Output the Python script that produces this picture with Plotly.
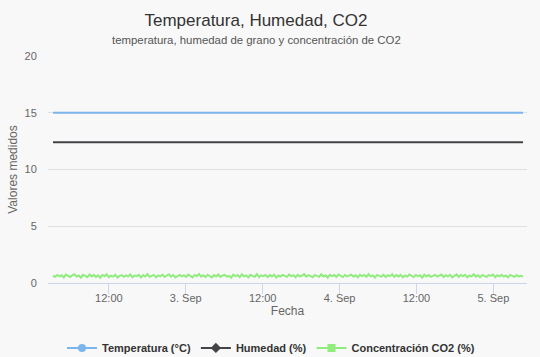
import pandas as pd
import plotly.graph_objects as go

# ---- data ----
inicio = "2019-09-02 03:17"
fin = "2019-09-05 04:38"

co2 = [
    0.64, 0.55, 0.71, 0.58, 0.68, 0.49, 0.74, 0.62, 0.53, 0.69, 0.77, 0.57, 0.66, 0.47, 0.72, 0.63, 0.51, 0.75, 0.58, 0.70,
    0.54, 0.67, 0.46, 0.71, 0.60, 0.78, 0.52, 0.65, 0.56, 0.73, 0.48, 0.63, 0.70, 0.55, 0.68, 0.59, 0.76, 0.50, 0.66, 0.61,
    0.72, 0.48, 0.69, 0.57, 0.79, 0.54, 0.62, 0.71, 0.50, 0.67, 0.58, 0.74, 0.53, 0.65, 0.77, 0.56, 0.70, 0.49, 0.61, 0.72,
    0.58, 0.67, 0.54, 0.75, 0.62, 0.50, 0.71, 0.60, 0.80, 0.56, 0.68, 0.52, 0.73, 0.63, 0.48, 0.70, 0.58, 0.75, 0.54, 0.66,
    0.71, 0.56, 0.63, 0.47, 0.74, 0.60, 0.69, 0.52, 0.77, 0.58, 0.66, 0.50, 0.72, 0.62, 0.55, 0.78, 0.53, 0.68, 0.60, 0.71,
    0.52, 0.70, 0.58, 0.74, 0.48, 0.66, 0.56, 0.71, 0.63, 0.54, 0.76, 0.60, 0.68, 0.50, 0.72, 0.58, 0.65, 0.79, 0.56, 0.70,
    0.61, 0.50, 0.71, 0.63, 0.54, 0.77, 0.58, 0.68, 0.47, 0.72, 0.60, 0.70, 0.54, 0.75, 0.62, 0.52, 0.71, 0.58, 0.66, 0.74,
    0.56, 0.68, 0.50, 0.72, 0.60, 0.70, 0.54, 0.78, 0.58, 0.66, 0.48, 0.71, 0.63, 0.56, 0.74, 0.52, 0.68, 0.60, 0.77, 0.54,
    0.70, 0.58, 0.72, 0.50, 0.66, 0.56, 0.75, 0.63, 0.52, 0.71, 0.60, 0.68, 0.47, 0.74, 0.58, 0.70, 0.54, 0.63, 0.72, 0.56,
    0.66, 0.74, 0.52, 0.68, 0.58, 0.71, 0.49, 0.63, 0.76, 0.54, 0.70, 0.60, 0.72, 0.50, 0.66, 0.58, 0.77, 0.56, 0.68, 0.52,
    0.71, 0.60, 0.54, 0.70, 0.63, 0.75, 0.50, 0.68, 0.58, 0.72, 0.56, 0.66, 0.49, 0.71, 0.60, 0.54, 0.68, 0.58, 0.63, 0.56,
]
N = len(co2)
temperatura = [15.0] * N
humedad = [12.4] * N
fechas = pd.date_range(inicio, fin, periods=N)

tick_vals = ["2019-09-02 12:00", "2019-09-03 00:00", "2019-09-03 12:00",
             "2019-09-04 00:00", "2019-09-04 12:00", "2019-09-05 00:00"]
tick_text = ["12:00", "3. Sep", "12:00", "4. Sep", "12:00", "5. Sep"]
x_range = ["2019-09-02 02:30", "2019-09-05 05:15"]

series = [
    ("Temperatura (°C)", temperatura, "#7cb5ec", "circle"),
    ("Humedad (%)", humedad, "#434348", "diamond"),
    ("Concentración CO2 (%)", co2, "#90ed7d", "square"),
]

FONT = "Liberation Sans"
BG = "#f8f8f8"
fig = go.Figure()
for name, vals, color, sym in series:
    fig.add_trace(go.Scatter(x=fechas, y=vals, mode="lines", name=name,
                             line=dict(color=color, width=2),
                             legendgroup=name, showlegend=False))
    fig.add_trace(go.Scatter(x=[None], y=[None], mode="lines+markers", name=name,
                             line=dict(color=color, width=2),
                             marker=dict(color=color, symbol=sym, size=8),
                             legendgroup=name, showlegend=True))

fig.update_layout(
    width=540, height=357,
    margin=dict(l=48, r=13, t=56, b=74, autoexpand=False),
    paper_bgcolor=BG, plot_bgcolor=BG,
    font=dict(family=FONT, color="#666666", size=11),
    title=dict(text="Temperatura, Humedad, CO2", x=256 / 540, xanchor="center",
               y=1 - 20 / 357, yanchor="middle",
               font=dict(family=FONT, size=17, color="#333333")),
    showlegend=True,
    legend=dict(orientation="h", x=(271 - 48) / 479, xanchor="center", y=-0.286, yanchor="middle",
                font=dict(family=FONT, size=11, color="#333333", weight="bold"),
                bgcolor="rgba(0,0,0,0)", itemwidth=30, tracegroupgap=0),
    annotations=[dict(text="temperatura, humedad de grano y concentración de CO2",
                      x=(256 - 48) / 479, xref="paper", y=(283 - 40) / 227, yref="paper",
                      xanchor="center", yanchor="middle", showarrow=False,
                      font=dict(family=FONT, size=11.4, color="#555555"))],
)
fig.update_xaxes(
    range=x_range, tickvals=tick_vals, ticktext=tick_text, automargin=False,
    showgrid=False, showline=True, linecolor="#ccd6eb", linewidth=1,
    ticks="outside", ticklen=10, tickcolor="#ccd6eb", ticklabelstandoff=-5,
    tickfont=dict(size=11, color="#666666"),
    title=dict(text="Fecha", font=dict(size=12, color="#666666"), standoff=3),
    zeroline=False,
)
fig.update_yaxes(
    range=[0, 20], tickvals=[0, 5, 10, 15, 20], automargin=False,
    showgrid=True, gridcolor="#e0e0e0", gridwidth=1,
    ticks="outside", ticklen=8, tickcolor="rgba(0,0,0,0)",
    tickfont=dict(size=11, color="#666666"),
    title=dict(text="Valores medidos", font=dict(size=12, color="#666666"), standoff=4),
    zeroline=False, showline=False,
)

fig.write_html("out.html", config={"displayModeBar": False},
               post_script="document.body.style.margin='0';document.body.style.background='%s';" % BG)
